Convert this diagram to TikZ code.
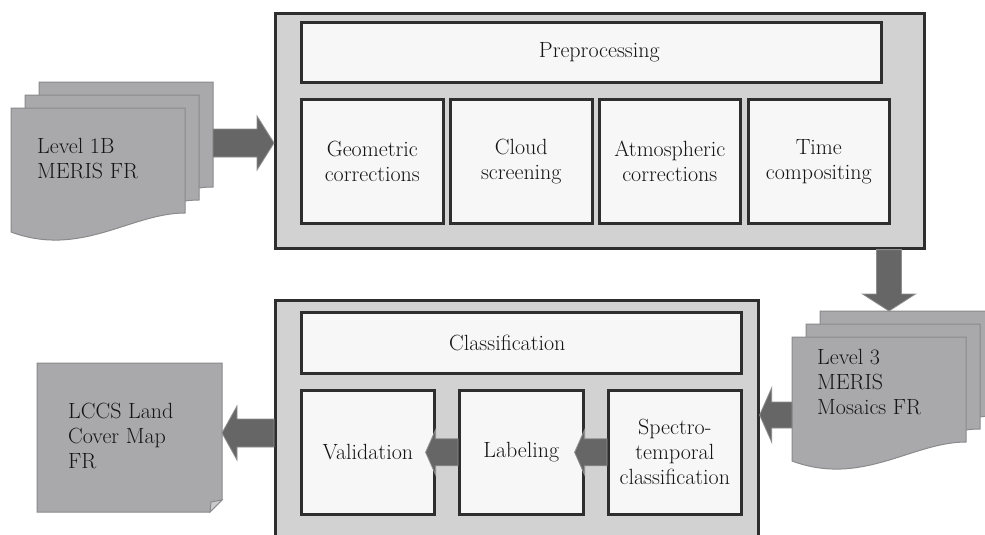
\documentclass[tikz,border=0pt]{standalone}
\usetikzlibrary{calc}
\definecolor{docgray}{HTML}{A9A9AB}
\definecolor{docedge}{HTML}{8A8A8C}
\definecolor{boxgray}{HTML}{D2D2D3}
\definecolor{boxedge}{HTML}{2E2E2E}
\definecolor{innerfill}{HTML}{F7F7F7}
\definecolor{arrowgray}{HTML}{666666}
\definecolor{arrowedge}{HTML}{8E8E8E}
\definecolor{textcol}{HTML}{151515}
\newcommand\mainfs{\fontsize{22}{25}\selectfont}
\tikzset{
  outerbox/.style={draw=boxedge, line width=2.6pt, fill=boxgray, inner sep=0pt, anchor=north west},
  innerbox/.style={draw=boxedge, line width=2.6pt, fill=innerfill, inner sep=0pt, anchor=north west, align=center, font=\mainfs, text=textcol},
  doctext/.style={anchor=west, align=left, inner sep=0pt, font=\mainfs, text=textcol},
  docstyle/.style={fill=docgray, draw=docedge, line width=1pt},
  arrowstyle/.style={fill=arrowgray, draw=arrowedge, line width=0.8pt},
}
% wavy document sheet, top-left corner at (#1,#2)
\newcommand\mydoc[2]{\begin{scope}[shift={(#1,#2)}]
  \filldraw[docstyle] (0,0) -- (174,0) -- (174,105) .. controls (120,105) and (70,150) .. (0,124) -- cycle;
\end{scope}}
% block arrow from (#1) to (#2): shaft half width #3, head half width #4, head length #5
\newcommand\myarrow[5]{%
  \coordinate (ba-h) at ($(#2)!#5!(#1)$);
  \filldraw[arrowstyle] ($(#1)!#3!-90:(#2)$) -- ($(ba-h)!#3!-90:(#2)$) -- ($(ba-h)!#4!-90:(#2)$)
    -- (#2) -- ($(ba-h)!#4!90:(#2)$) -- ($(ba-h)!#3!90:(#2)$) -- ($(#1)!#3!90:(#2)$) -- cycle;}
\begin{document}
\begin{tikzpicture}[x=1pt,y=-1pt]
\useasboundingbox (0,0) rectangle (985,535);
\fill[white] (0,0) rectangle (985,535);

% left input stack
\mydoc{39}{82}\mydoc{25}{95}\mydoc{11}{108}
\node[doctext] (lvl1) at (37,159) {Level 1B\\MERIS FR};
\coordinate (s1e) at (213,143);

% preprocessing block
\node[outerbox, minimum width=649pt, minimum height=235pt] (pre) at (274,12) {};
\node[innerbox, minimum width=580pt, minimum height=60pt] (prep) at (300,21) {\hspace*{16pt}Preprocessing};
\node[innerbox, minimum width=142pt, minimum height=124pt] (geo) at (300,98) {Geometric\\corrections};
\node[innerbox, minimum width=142pt, minimum height=124pt] (cld) at (449,98) {Cloud\\screening};
\node[innerbox, minimum width=141pt, minimum height=124pt] (atm) at (598,98) {Atmospheric\\corrections};
\node[innerbox, minimum width=141pt, minimum height=124pt] (tim) at (747,98) {Time\\compositing};

\coordinate (a1) at (s1e -| pre.west);
\myarrow{s1e}{a1}{14pt}{27pt}{17pt}

% right mosaic stack
\mydoc{820}{311}\mydoc{806}{324}\mydoc{792}{337}
\node[doctext] (lvl3) at (817,382) {Level 3\\MERIS\\Mosaics FR};
\coordinate (s2n) at (889,311);
\coordinate (a2) at (s2n |- pre.south);
\myarrow{a2}{s2n}{12.5pt}{26.5pt}{17pt}

% classification block
\node[outerbox, minimum width=483pt, minimum height=262pt] (cls) at (274,299) {};
\node[innerbox, minimum width=440pt, minimum height=61pt] (clsf) at (300,311) {\hspace*{-28pt}Classification};
\node[innerbox, minimum width=133pt, minimum height=124pt] (val) at (300,389) {Validation};
\node[innerbox, minimum width=124pt, minimum height=124pt] (lab) at (458,389) {Labeling};
\node[innerbox, minimum width=133pt, minimum height=124pt] (spe) at (607,389) {Spectro-\\temporal\\classification};

\coordinate (s2w) at (792,415);
\coordinate (a3) at (s2w -| cls.east);
\myarrow{s2w}{a3}{13pt}{27pt}{12pt}

\coordinate (a5) at ($(val.east)+(-10,0)$);
\myarrow{lab.west}{a5}{13.5pt}{22.5pt}{10pt}
\coordinate (a6) at ($(lab.east)+(-10,0)$);
\myarrow{spe.west}{a6}{13.5pt}{22.5pt}{10pt}

% output map
\filldraw[docstyle] (37,363) -- (222,363) -- (222,500) -- (210,512) -- (37,512) -- cycle;
\filldraw[docstyle, fill=docgray!60!white] (222,500) -- (211,502) -- (210,512) -- cycle;
\node[doctext] (lccs) at (68,436) {LCCS Land\\Cover Map\\FR};
\coordinate (ld) at (222,433);
\coordinate (a4) at (ld -| cls.west);
\myarrow{a4}{ld}{14pt}{27pt}{15pt}
\end{tikzpicture}
\end{document}
